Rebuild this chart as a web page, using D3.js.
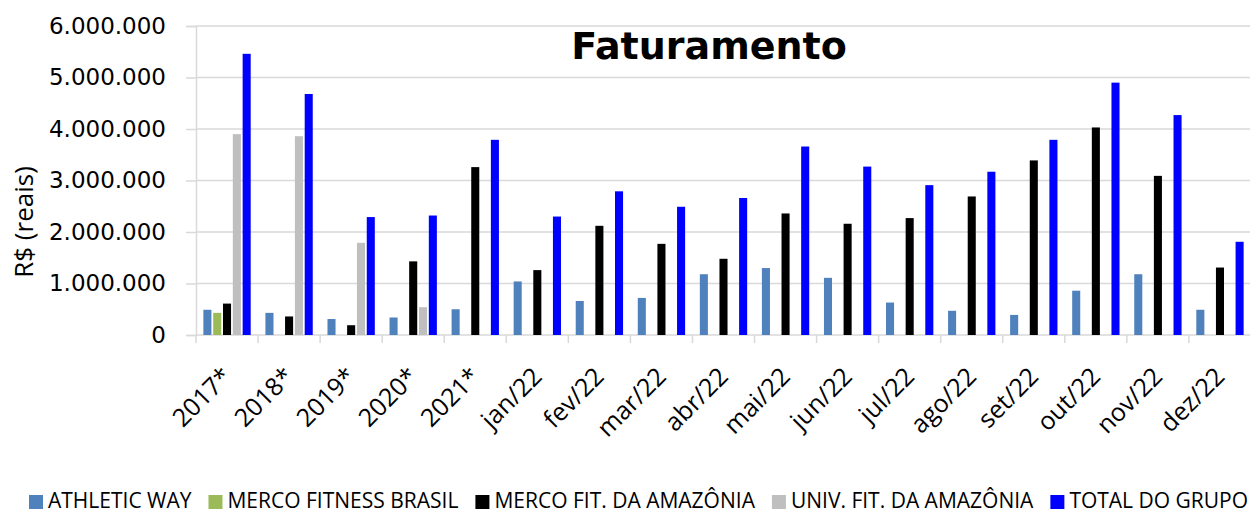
<!DOCTYPE html>
<html>
<head>
    <title>Faturamento</title>
    <script src="https://d3js.org/d3.v7.min.js"></script>
    <style>
        body { margin: 0; background: #fff; }
        svg { display: block; }
    </style>
</head>
<body>
    <div id="chart"></div>

    <script>
        // Categories (years and months)
        var categories = ['2017*', '2018*', '2019*', '2020*', '2021*', 'jan/22', 'fev/22', 'mar/22',
            'abr/22', 'mai/22', 'jun/22', 'jul/22', 'ago/22', 'set/22', 'out/22', 'nov/22', 'dez/22'];

        // Series values (R$)
        var athleticWay = [490000, 430000, 310000, 340000, 500000, 1040000, 660000, 720000,
            1180000, 1300000, 1110000, 630000, 470000, 390000, 860000, 1180000, 490000];
        var mercoFitnessBrasil = [430000, null, null, null, null, null, null, null,
            null, null, null, null, null, null, null, null, null];
        var mercoFitAmazonia = [610000, 360000, 190000, 1430000, 3260000, 1260000, 2120000, 1770000,
            1480000, 2360000, 2160000, 2270000, 2690000, 3390000, 4030000, 3090000, 1310000];
        var univFitAmazonia = [3900000, 3860000, 1790000, 540000, null, null, null, null,
            null, null, null, null, null, null, null, null, null];
        var totalGrupo = [5460000, 4680000, 2290000, 2320000, 3790000, 2300000, 2790000, 2490000,
            2660000, 3660000, 3270000, 2910000, 3170000, 3790000, 4900000, 4270000, 1810000];

        var seriesNames = ['ATHLETIC WAY', 'MERCO FITNESS BRASIL', 'MERCO FIT. DA AMAZÔNIA',
            'UNIV. FIT. DA AMAZÔNIA', 'TOTAL DO GRUPO'];
        var seriesValues = [athleticWay, mercoFitnessBrasil, mercoFitAmazonia, univFitAmazonia, totalGrupo];
        var seriesColors = ['#4f81bd', '#9bbb59', '#000000', '#bfbfbf', '#0000ff'];

        var yTicks = [0, 1000000, 2000000, 3000000, 4000000, 5000000, 6000000];

        var width = 1250, height = 514;
        var plot = { left: 196, right: 1251, top: 26, bottom: 335 };

        var svg = d3.select('#chart')
            .append('svg')
            .attr('width', width)
            .attr('height', height);

        // Scales
        var x = d3.scaleBand()
            .domain(categories)
            .range([plot.left, plot.right])
            .padding(0);

        var xSeries = d3.scaleBand()
            .domain(d3.range(seriesNames.length))
            .range([0, x.bandwidth()])
            .paddingInner(0.18)
            .paddingOuter(0.75);

        var y = d3.scaleLinear()
            .domain([0, 6000000])
            .range([plot.bottom, plot.top]);

        var ptBR = d3.formatLocale({ decimal: ',', thousands: '.', grouping: [3], currency: ['R$', ''] });
        var fmt = ptBR.format(',d');

        // Gridlines
        svg.append('g')
            .selectAll('line')
            .data(yTicks.slice(1))
            .enter()
            .append('line')
            .attr('x1', plot.left)
            .attr('x2', width)
            .attr('y1', function(d) { return y(d); })
            .attr('y2', function(d) { return y(d); })
            .attr('stroke', '#d9d9d9')
            .attr('stroke-width', 1.5);

        // Y axis
        var yAxis = svg.append('g')
            .attr('transform', 'translate(' + plot.left + ',0)')
            .call(d3.axisLeft(y).tickValues(yTicks).tickFormat(fmt).tickSize(10).tickPadding(20));
        yAxis.select('.domain').attr('stroke', '#d9d9d9').attr('stroke-width', 1.5);
        yAxis.selectAll('.tick line').attr('stroke', '#d9d9d9').attr('stroke-width', 1.5);
        yAxis.selectAll('.tick text')
            .attr('fill', '#000')
            .style('font-family', '"DejaVu Sans", sans-serif')
            .style('font-size', '23px');

        // X axis line and ticks at category boundaries
        var xg = svg.append('g');
        xg.append('line')
            .attr('x1', plot.left).attr('x2', width)
            .attr('y1', plot.bottom).attr('y2', plot.bottom)
            .attr('stroke', '#d9d9d9').attr('stroke-width', 1.5);
        xg.selectAll('line.tk')
            .data(categories)
            .enter()
            .append('line')
            .attr('class', 'tk')
            .attr('x1', function(d) { return x(d); })
            .attr('x2', function(d) { return x(d); })
            .attr('y1', plot.bottom)
            .attr('y2', plot.bottom + 8)
            .attr('stroke', '#d9d9d9')
            .attr('stroke-width', 1.5);

        // Rotated category labels
        xg.selectAll('text')
            .data(categories)
            .enter()
            .append('text')
            .attr('transform', function(d) {
                return 'translate(' + (x(d) + x.bandwidth() / 2 - 1) + ',' + 371 + ') rotate(-45)';
            })
            .attr('text-anchor', 'end')
            .attr('dominant-baseline', 'central')
            .style('font-family', '"Open Sans", sans-serif')
            .style('font-size', '25px')
            .attr('fill', '#000')
            .text(function(d) { return d; });

        // Bars
        seriesValues.forEach(function(values, s) {
            svg.append('g')
                .selectAll('rect')
                .data(values.map(function(v, i) { return { cat: categories[i], value: v }; })
                    .filter(function(d) { return d.value != null; }))
                .enter()
                .append('rect')
                .attr('x', function(d) { return x(d.cat) + xSeries(s); })
                .attr('y', function(d) { return y(d.value); })
                .attr('width', xSeries.bandwidth())
                .attr('height', function(d) { return y(0) - y(d.value); })
                .attr('fill', seriesColors[s]);
        });

        // Title
        svg.append('text')
            .attr('x', 709)
            .attr('y', 59)
            .attr('text-anchor', 'middle')
            .style('font-family', '"DejaVu Sans", sans-serif')
            .style('font-weight', 'bold')
            .style('font-size', '38px')
            .text('Faturamento');

        // Y axis title
        svg.append('text')
            .attr('transform', 'translate(33,222) rotate(-90)')
            .attr('text-anchor', 'middle')
            .style('font-family', '"Open Sans", sans-serif')
            .style('font-size', '26px')
            .text('R$ (reais)');

        // Legend
        var legend = svg.append('g');
        var lx = 29;
        seriesNames.forEach(function(name, i) {
            legend.append('rect')
                .attr('x', lx)
                .attr('y', 495)
                .attr('width', 14)
                .attr('height', 14)
                .attr('fill', seriesColors[i]);
            var t = legend.append('text')
                .attr('x', lx + 19)
                .attr('y', 508)
                .style('font-family', '"Open Sans", sans-serif')
                .style('font-size', '21px')
                .text(name);
            lx += 19 + t.node().getComputedTextLength() + 17;
        });
    </script>
</body>
</html>
